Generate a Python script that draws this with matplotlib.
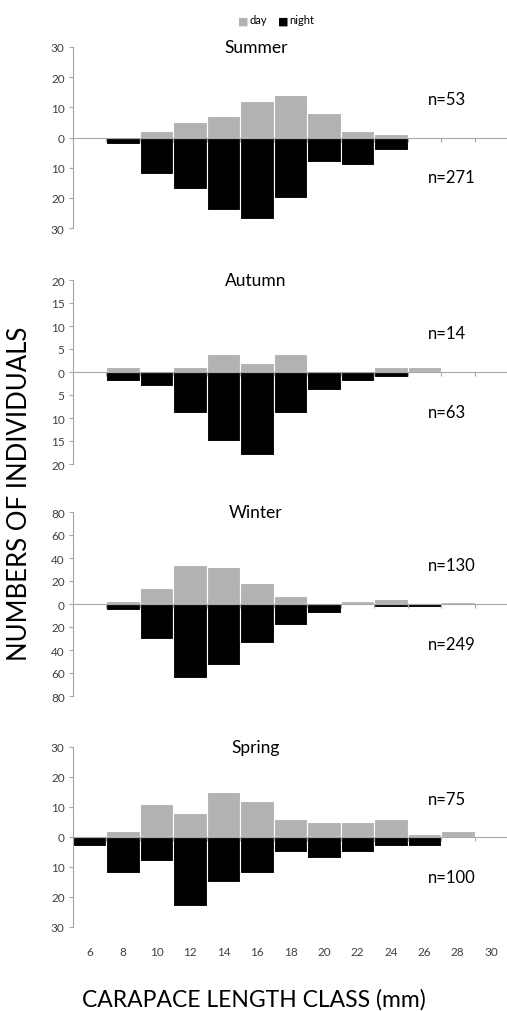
import numpy as np
import matplotlib.pyplot as plt

plt.rcParams['font.family'] = ['Lato', 'DejaVu Sans']

# Carapace length classes (mm)
classes = [6, 8, 10, 12, 14, 16, 18, 20, 22, 24, 26, 28, 30]

seasons = ['Summer', 'Autumn', 'Winter', 'Spring']

# counts per class, day and night
summer_day = [0, 0, 2, 5, 7, 12, 14, 8, 2, 1, 0, 0, 0]
summer_night = [0, 2, 12, 17, 24, 27, 20, 8, 9, 4, 0, 0, 0]
autumn_day = [0, 1, 0, 1, 4, 2, 4, 0, 0, 1, 1, 0, 0]
autumn_night = [0, 2, 3, 9, 15, 18, 9, 4, 2, 1, 0, 0, 0]
winter_day = [0, 3, 14, 34, 32, 18, 7, 1, 3, 4, 0, 2, 0]
winter_night = [0, 5, 30, 64, 53, 34, 18, 8, 0, 3, 3, 0, 0]
spring_day = [0, 2, 11, 8, 15, 12, 6, 5, 5, 6, 1, 2, 0.5]
spring_night = [3, 12, 8, 23, 15, 12, 5, 7, 5, 3, 3, 0, 0]

n_day = [53, 14, 130, 75]
n_night = [271, 63, 249, 100]

y_limits = [30, 20, 80, 30]
y_steps = [10, 5, 20, 10]

day_data = [summer_day, autumn_day, winter_day, spring_day]
night_data = [summer_night, autumn_night, winter_night, spring_night]

W, H = 507, 1012
fig = plt.figure(figsize=(W / 100, H / 100), dpi=100)

# axes top / bottom in pixels
tops = [48, 281, 513, 748]
bottoms = [229, 465, 697, 928]
left_px, width_px = 73, 435

grey = '#b2b2b2'
axis_grey = '#a6a6a6'
x = np.arange(len(classes))

for i, season in enumerate(seasons):
    ax = fig.add_axes([left_px / W, 1 - bottoms[i] / H, width_px / W, (bottoms[i] - tops[i]) / H])
    ax.bar(x, day_data[i], width=1.0, color=grey, edgecolor='white', linewidth=0.8)
    ax.bar(x, -np.array(night_data[i]), width=1.0, color='black', edgecolor='white', linewidth=0.8)

    lim = y_limits[i]
    ax.set_ylim(-lim, lim)
    ax.set_xlim(-0.5, len(classes) - 0.5)
    yt = np.arange(-lim, lim + 1, y_steps[i])
    ax.set_yticks(yt)
    ax.set_yticklabels([str(abs(v)) for v in yt])
    ax.tick_params(axis='y', length=3, color=axis_grey, labelcolor='#404040', labelsize=8.5, pad=3)

    for s in ['top', 'right']:
        ax.spines[s].set_visible(False)
    ax.spines['left'].set_color(axis_grey)
    ax.spines['left'].set_linewidth(0.8)
    ax.spines['bottom'].set_position(('data', 0))
    ax.spines['bottom'].set_color(axis_grey)
    ax.spines['bottom'].set_linewidth(0.8)
    ax.set_xticks(np.arange(len(classes) + 1) - 0.5)
    ax.set_xticklabels([])
    ax.tick_params(axis='x', length=3, color=axis_grey)

    ax.text(0.42, 1.0, season, transform=ax.transAxes, ha='center', va='center', fontsize=12.5)
    ax.text(0.815, 0.71, f'n={n_day[i]}', transform=ax.transAxes, ha='left', va='center', fontsize=12)
    ax.text(0.815, 0.28, f'n={n_night[i]}', transform=ax.transAxes, ha='left', va='center', fontsize=12)

    if i == len(seasons) - 1:
        sec = ax.secondary_xaxis('bottom')
        sec.set_xticks(x)
        sec.set_xticklabels([str(c) for c in classes])
        sec.tick_params(length=0, labelsize=8.5, labelcolor='#404040', pad=14)
        sec.spines['bottom'].set_visible(False)

# legend
fig.text(243 / W, 1 - 21 / H, '\u25a0', color=grey, fontsize=8, ha='center', va='center')
fig.text(250 / W, 1 - 21 / H, 'day', fontsize=8, ha='left', va='center')
fig.text(283 / W, 1 - 21 / H, '\u25a0', color='black', fontsize=8, ha='center', va='center')
fig.text(289 / W, 1 - 21 / H, 'night', fontsize=8, ha='left', va='center')

fig.text(20 / W, 1 - 494 / H, 'NUMBERS OF INDIVIDUALS', rotation=90, ha='center', va='center', fontsize=18.5)
fig.text(254 / W, 1 - 1000 / H, 'CARAPACE LENGTH CLASS (mm)', ha='center', va='center', fontsize=16.5)

fig.savefig('out.png', dpi=100)
